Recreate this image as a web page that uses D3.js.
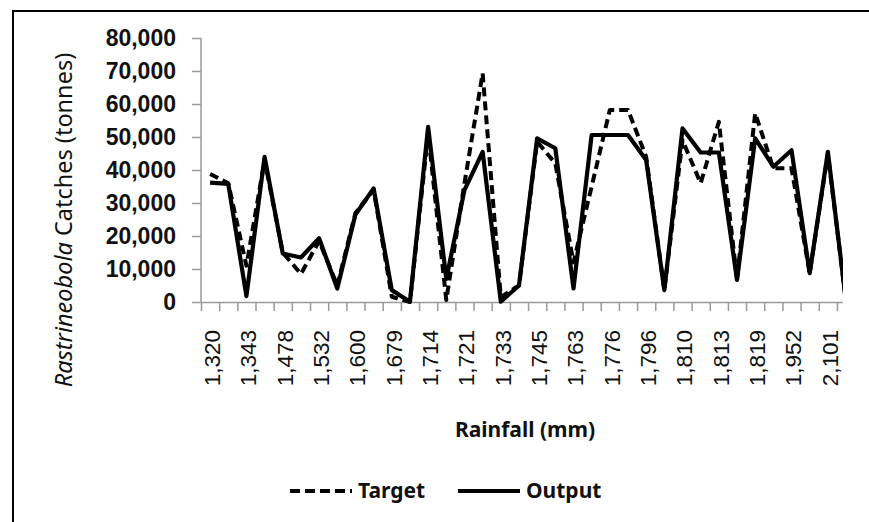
<!DOCTYPE html>
<html>
<head>
<meta charset="utf-8">
<script src="https://cdn.jsdelivr.net/npm/d3@7"></script>
<style>
  body { margin: 0; background: #fff; }
</style>
</head>
<body>
<script>
// rainfall labels shown on the axis (every second category)
const rainfallLabels = ["1,320", "1,343", "1,478", "1,532", "1,600", "1,679", "1,714", "1,721", "1,733",
                        "1,745", "1,763", "1,776", "1,796", "1,810", "1,813", "1,819", "1,952", "2,101"];
const nCategories = 36;

// catches (tonnes)
const target = [38800, 36000, 11000, 43000, 15000, 8500, 18500, 5000, 27000, 34000, 1600, 0,
                51000, 600, 36000, 69300, 1500, 5000, 48600, 42000, 12000, 35000, 58200, 58200,
                44000, 3600, 49000, 36000, 54600, 7000, 57200, 40500, 40500, 8700, 45000, 0];
const output = [36200, 35800, 1800, 44000, 14700, 13500, 19300, 4100, 26500, 34400, 3600, 100,
                53100, 7000, 33900, 45500, 100, 5000, 49600, 46600, 4100, 50600, 50600, 50600,
                43000, 3600, 52600, 45300, 45300, 6700, 49600, 41000, 46000, 8700, 45500, 0];
const yTicks = [0, 10000, 20000, 30000, 40000, 50000, 60000, 70000, 80000];

const W = 869, H = 522;
const plotLeft = 201, plotBottom = 302, plotTop = 38, step = 18.17, clipRight = 843;

const svg = d3.select("body").append("svg")
    .attr("width", W)
    .attr("height", H)
    .style("font-family", "'Noto Sans', 'Open Sans', sans-serif");

svg.append("rect").attr("width", W).attr("height", H).attr("fill", "#fff");

// the original picture is cropped on the right
svg.append("clipPath").attr("id", "clip")
  .append("rect").attr("x", 0).attr("y", 0).attr("width", clipRight).attr("height", H);

// scales
const x = d3.scaleBand()
    .domain(d3.range(nCategories))
    .range([plotLeft, plotLeft + nCategories * step]);
const xEdge = d3.scaleLinear()
    .domain([0, nCategories])
    .range([plotLeft, plotLeft + nCategories * step]);
const y = d3.scaleLinear()
    .domain([0, 80000])
    .range([plotBottom, plotTop]);

// y axis
const yAxis = svg.append("g")
    .attr("transform", `translate(${plotLeft},0)`)
    .call(d3.axisLeft(y).tickValues(yTicks).tickFormat(d3.format(",")).tickSize(9).tickPadding(16));
yAxis.selectAll("path, line").attr("stroke", "#9a9a9a").attr("stroke-width", 1.5);
yAxis.select(".domain").attr("d", `M0,${plotTop}V${plotBottom}`);
yAxis.selectAll("text")
    .attr("fill", "#111")
    .style("font-size", "23px")
    .style("font-weight", "bold");

// x axis: tick marks between categories
const xAxis = svg.append("g")
    .attr("clip-path", "url(#clip)")
    .append("g")
    .attr("transform", `translate(0,${plotBottom})`)
    .call(d3.axisBottom(xEdge).tickValues(d3.range(0, nCategories + 1)).tickFormat("").tickSize(9).tickSizeOuter(0));
xAxis.selectAll("path, line").attr("stroke", "#9a9a9a").attr("stroke-width", 1.5);

// x labels, every second category
const xLab = svg.append("g")
    .attr("transform", `translate(0,${plotBottom})`)
    .call(d3.axisBottom(x)
        .tickValues(d3.range(0, nCategories, 2))
        .tickFormat(i => rainfallLabels[i / 2])
        .tickSize(0));
xLab.select(".domain").remove();
xLab.selectAll("text")
    .attr("transform", "rotate(-90)")
    .attr("x", -28)
    .attr("y", 2)
    .attr("dy", "0.35em")
    .attr("text-anchor", "end")
    .attr("fill", "#111")
    .style("font-size", "22.5px");

// lines
const line = d3.line()
    .x((d, i) => x(i) + x.bandwidth() / 2)
    .y(d => y(d));

const plot = svg.append("g").attr("clip-path", "url(#clip)");
plot.append("path")
    .datum(target)
    .attr("fill", "none")
    .attr("stroke", "#000")
    .attr("stroke-width", 4)
    .attr("stroke-dasharray", "9,5")
    .attr("stroke-linejoin", "round")
    .attr("d", line);
plot.append("path")
    .datum(output)
    .attr("fill", "none")
    .attr("stroke", "#000")
    .attr("stroke-width", 4.2)
    .attr("stroke-linejoin", "round")
    .attr("d", line);

// axis titles
const yTitle = svg.append("text")
    .attr("transform", "translate(72,220) rotate(-90)")
    .attr("text-anchor", "middle")
    .attr("fill", "#111")
    .style("font-size", "23.5px");
yTitle.append("tspan").style("font-style", "italic").text("Rastrineobola");
yTitle.append("tspan").text(" Catches (tonnes)");

svg.append("text")
    .attr("x", (plotLeft + clipRight) / 2 + 3)
    .attr("y", 437)
    .attr("text-anchor", "middle")
    .attr("fill", "#111")
    .style("font-size", "21px")
    .style("font-weight", "bold")
    .text("Rainfall (mm)");

// legend
const legend = [
  { name: "Target", x: 290, dash: "10,5" },
  { name: "Output", x: 458, dash: null }
];
const lg = svg.selectAll(".legend").data(legend).enter().append("g");
lg.append("line")
    .attr("x1", d => d.x).attr("x2", d => d.x + 62)
    .attr("y1", 491).attr("y2", 491)
    .attr("stroke", "#000").attr("stroke-width", 4)
    .attr("stroke-dasharray", d => d.dash);
lg.append("text")
    .attr("x", d => d.x + 68)
    .attr("y", 498)
    .attr("fill", "#111")
    .style("font-size", "21px")
    .style("font-weight", "bold")
    .text(d => d.name);

// frame (left and top edges only, as in the cropped original)
svg.append("line").attr("x1", 13).attr("x2", 13).attr("y1", 10).attr("y2", H)
    .attr("stroke", "#000").attr("stroke-width", 2);
svg.append("line").attr("x1", 12).attr("x2", W).attr("y1", 11).attr("y2", 11)
    .attr("stroke", "#000").attr("stroke-width", 2);
</script>
</body>
</html>
